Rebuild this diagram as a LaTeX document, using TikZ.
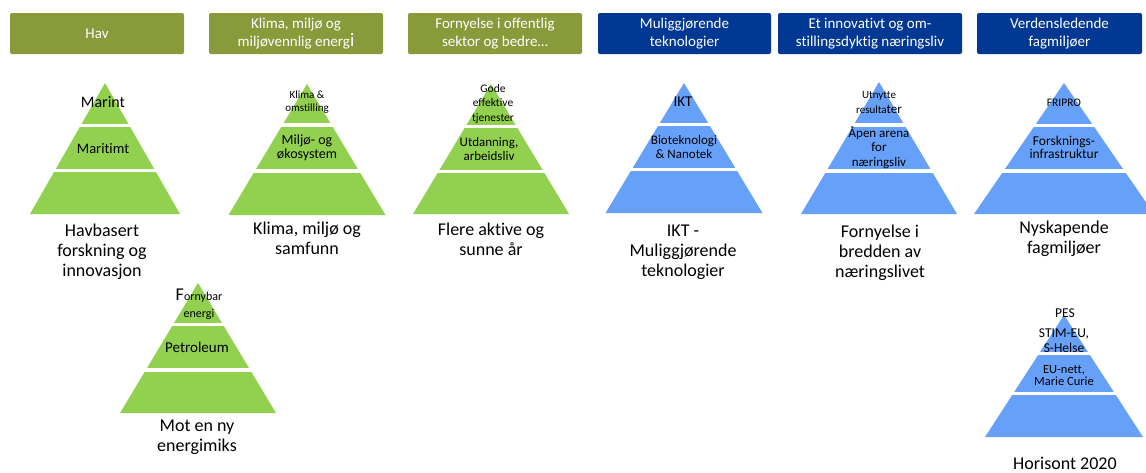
\documentclass[tikz,border=0pt]{standalone}
\usepackage{fontspec}
\setmainfont{Carlito}[Ligatures=NoCommon]
\definecolor{hdrgreen}{HTML}{899A3B}
\definecolor{hdrblue}{HTML}{003893}
\definecolor{pyrgreen}{HTML}{92D050}
\definecolor{pyrblue}{HTML}{67A0F8}
\newcommand\fsz[2]{\fontsize{#1}{#2}\selectfont}
% cx, apex y, base y, half base, colour, gap1 y, gap2 y
\newcommand\pyr[7]{%
  \fill[#5] (#1,#2) -- (#1+#4,#3) -- (#1-#4,#3) -- cycle;
  \draw[gapline] (#1-#4-3,#6) -- (#1+#4+3,#6);
  \draw[gapline] (#1-#4-3,#7) -- (#1+#4+3,#7);
}
\tikzset{
  gapline/.style={white, line width=3.5pt},
  hbox/.style={fill=#1, rounded corners=2pt, minimum height=41pt, inner sep=0pt,
    text=white, align=center, font=\fsz{15}{18}},
  lbl/.style={align=center, inner sep=0pt, text=black, font=\fsz{18}{20}},
  tier/.style={align=center, inner sep=0pt, text=black},
}
\begin{document}
\begin{tikzpicture}[x=1pt, y=-1pt]
\useasboundingbox (0,0) rectangle (1146,472);
% header boxes
\node[hbox=hdrgreen, minimum width=174pt] (h1) at (97,33.5) {Hav};
\node[hbox=hdrgreen, minimum width=174pt] (h2) at (296,33.5) {Klima, miljø og\\miljøvennlig energ{\fsz{19}{19}i}};
\node[hbox=hdrgreen, minimum width=174pt] (h3) at (495,33.5) {Fornyelse i offentlig\\sektor og bedre\dots};
\node[hbox=hdrblue, minimum width=173pt] (h4) at (684.5,33.5) {Muliggjørende\\teknologier};
\node[hbox=hdrblue, minimum width=184pt] (h5) at (870,33.5) {Et innovativt og om-\\stillingsdyktig næringsliv};
\node[hbox=hdrblue, minimum width=165pt] (h6) at (1059.5,33.5) {Verdensledende\\fagmiljøer};

% pyramids
\pyr{105}{83}{214}{75}{pyrgreen}{125.5}{170.5}
\pyr{307}{84}{215}{78.5}{pyrgreen}{125}{171}
\pyr{491}{84}{214}{78}{pyrgreen}{126.5}{171.5}
\pyr{684}{83}{213}{78.5}{pyrblue}{124.5}{169.5}
\pyr{879}{82}{214}{78}{pyrblue}{125}{171}
\pyr{1064}{83}{214}{90}{pyrblue}{125.5}{170.8}
\pyr{198}{283}{413}{78}{pyrgreen}{324.5}{370}
\pyr{1064}{315}{437}{79}{pyrblue}{353.5}{393.5}

% pyramid 1
\node[tier, font=\fsz{16}{18}] (p1a) at (103,102) {Marint};
\node[tier, font=\fsz{14.5}{16}] (p1b) at (103,148.5) {Maritimt};
\node[lbl] (p1) at (102,252) {Havbasert\\forskning og\\innovasjon};
% pyramid 2
\node[tier, font=\fsz{11}{13}] (p2a) at (307,102.5) {Klima \&\\omstilling};
\node[tier, font=\fsz{14}{14}] (p2b) at (307,148) {Miljø- og\\økosystem};
\node[lbl] (p2) at (307,238) {Klima, miljø og\\samfunn};
% pyramid 3
\node[tier, font=\fsz{11.5}{14.5}] (p3a) at (493,103.5) {Gode\\effektive\\tjenester};
\node[tier, font=\fsz{13}{14.5}] (p3b) at (489,149) {Utdanning,\\arbeidsliv};
\node[lbl] (p3) at (491,239) {Flere aktive og\\sunne år};
% pyramid 4
\node[tier, font=\fsz{15}{16}] (p4a) at (683,102) {IKT};
\node[tier, font=\fsz{13}{14}] (p4b) at (684,147) {Bioteknologi\\\& Nanotek};
\node[lbl] (p4) at (683,252) {IKT -\\Muliggjørende\\teknologier};
% pyramid 5
\node[tier, font=\fsz{11}{15}] (p5a) at (879,102.5) {Utnytte\\resulta{\fsz{13}{15}ter}};
\node[tier, font=\fsz{13}{14.5}] (p5b) at (879,147.5) {Åpen arena\\for\\næringsliv};
\node[lbl] (p5) at (880,252.5) {Fornyelse i\\bredden av\\næringslivet};
% pyramid 6
\node[tier, font=\fsz{11.5}{13}] (p6a) at (1064,103) {FRIPRO};
\node[tier, font=\fsz{13.5}{13.5}] (p6b) at (1064,147.5) {Forsknings-\\infrastruktur};
\node[lbl] (p6) at (1064,238.5) {Nyskapende\\fagmiljøer};
% pyramid 7
\node[tier, font=\fsz{12}{17}] (p7a) at (199,304.5) {{\fsz{18}{17}F}ornybar\\energi};
\node[tier, font=\fsz{15}{16}] (p7b) at (197,347) {Petroleum};
\node[lbl] (p7) at (197,437) {Mot en ny\\energimiks};
% pyramid 8
\node[tier, font=\fsz{13.5}{15}] (p8a) at (1065,313) {PES};
\node[tier, font=\fsz{13.5}{15}] (p8b) at (1064,340.5) {STIM-EU,\\S-Helse};
\draw[gapline] (980,353.5) -- (1148,353.5);
\node[tier, font=\fsz{12.5}{12}] (p8c) at (1064,376) {EU-nett,\\Marie Curie};
\node[lbl] (p8) at (1065,463) {Horisont 2020};
\end{tikzpicture}
\end{document}
